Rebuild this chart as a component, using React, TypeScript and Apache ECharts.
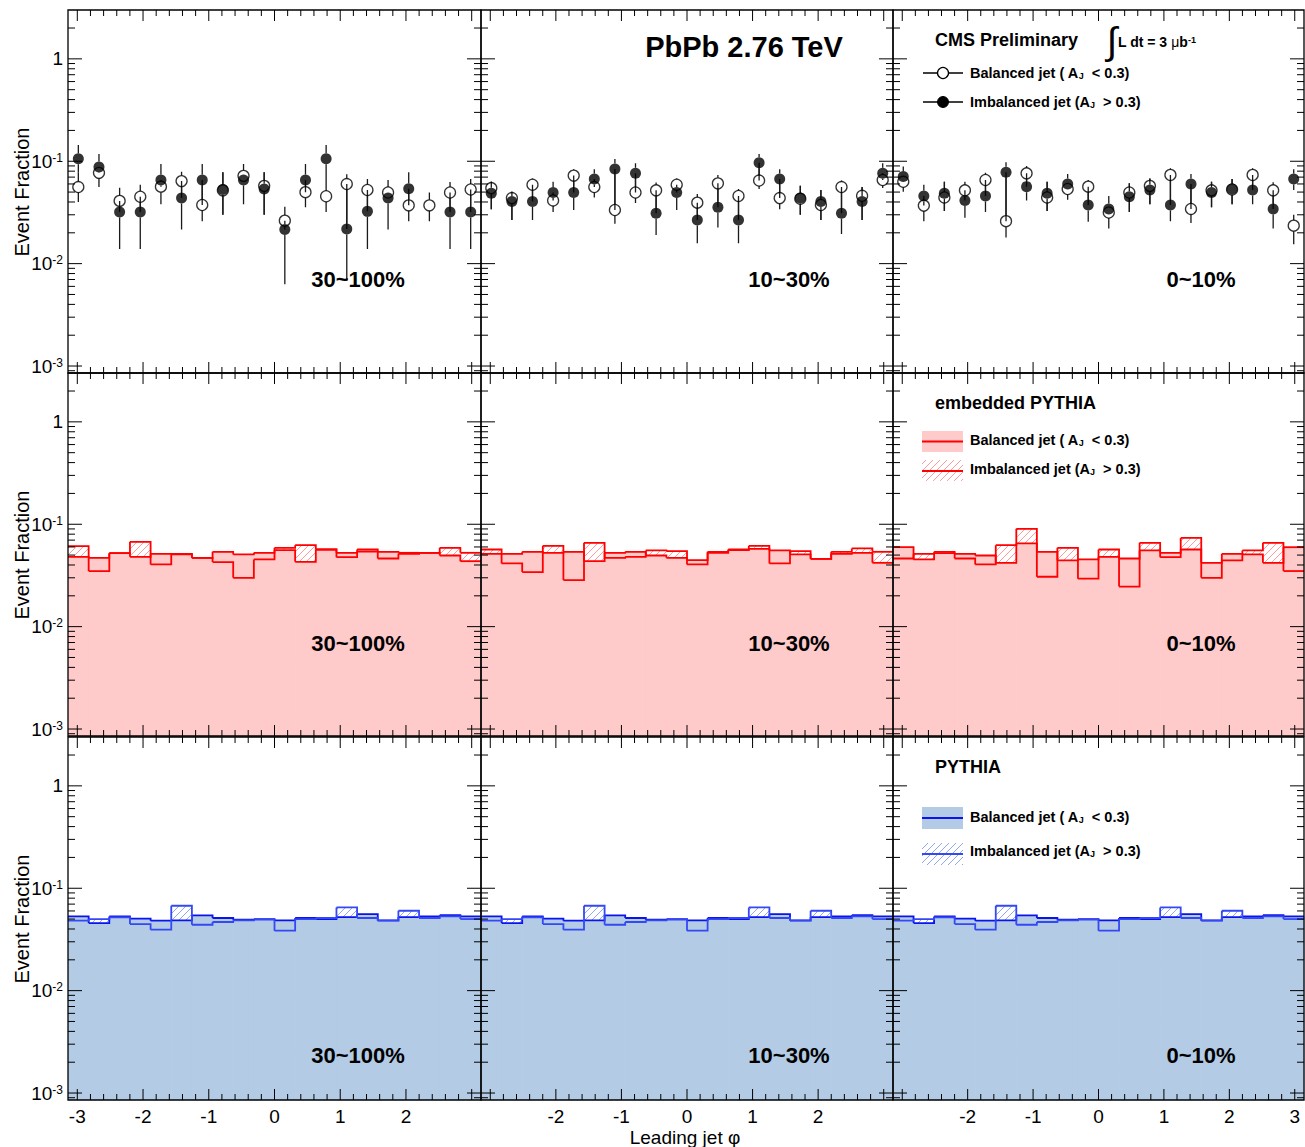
import React, { useEffect, useRef } from "react";
import * as echarts from "echarts";

const W = 1305;
const H = 1147;
const FONT = '"Liberation Sans", Arial, Helvetica, sans-serif';

// phi binning: 20 equal bins over [-pi, pi]
const PHI_MIN = -Math.PI;
const PHI_MAX = Math.PI;
const N_BINS = 20;
const BIN_W = (PHI_MAX - PHI_MIN) / N_BINS;

// log y range of every panel
const Y_MIN = 8.55e-4;
const Y_MAX = 3.0;

const centralityLabels = ["30~100%", "10~30%", "0~10%"];

// ---------- CMS PbPb data (event fraction per phi bin) ----------
// 30~100%
const cms30Bal = [0.056, 0.077, 0.041, 0.045, 0.0565, 0.064, 0.0374, 0.052, 0.072, 0.0575, 0.0263, 0.0499, 0.0455, 0.0599, 0.0524, 0.0495, 0.0371, 0.0371, 0.0495, 0.053];
const cms30BalLo = [0.04, 0.056, 0.032, 0.032, 0.038, 0.0437, 0.026, 0.03, 0.0656, 0.03, 0.0216, 0.0356, 0.032, 0.0218, 0.0324, 0.0437, 0.026, 0.026, 0.032, 0.032];
const cms30BalHi = [0.078, 0.088, 0.055, 0.059, 0.0656, 0.079, 0.0656, 0.078, 0.094, 0.078, 0.036, 0.0656, 0.0735, 0.0748, 0.067, 0.0656, 0.054, 0.0495, 0.0627, 0.067];
const cms30Imb = [0.106, 0.088, 0.032, 0.032, 0.0656, 0.0437, 0.0656, 0.053, 0.0656, 0.0536, 0.0216, 0.0656, 0.106, 0.0218, 0.0324, 0.0437, 0.054, null, 0.032, 0.032];
const cms30ImbLo = [0.078, 0.077, 0.0139, 0.0139, 0.0565, 0.0216, 0.0374, 0.03, 0.038, 0.03, 0.0063, 0.0499, 0.0735, 0.0068, 0.0139, 0.0216, 0.0371, null, 0.0139, 0.0139];
const cms30ImbHi = [0.144, 0.118, 0.041, 0.045, 0.094, 0.064, 0.094, 0.078, 0.072, 0.078, 0.0263, 0.094, 0.144, 0.0599, 0.0524, 0.0495, 0.078, null, 0.0495, 0.053];

// 10~30%
const cms10Bal = [0.0547, 0.0437, 0.059, 0.0414, 0.0724, 0.056, 0.0334, 0.0495, 0.052, 0.059, 0.0394, 0.0608, 0.0458, 0.0648, 0.0437, 0.043, 0.0374, 0.056, 0.046, 0.0656];
const cms10BalLo = [0.034, 0.0267, 0.0404, 0.032, 0.0495, 0.0443, 0.0245, 0.039, 0.031, 0.0495, 0.0267, 0.0356, 0.0267, 0.0535, 0.034, 0.03, 0.0267, 0.031, 0.0267, 0.0547];
const cms10BalHi = [0.063, 0.0505, 0.068, 0.0495, 0.0834, 0.067, 0.084, 0.0762, 0.062, 0.068, 0.0478, 0.0735, 0.0535, 0.0968, 0.067, 0.0575, 0.0524, 0.0648, 0.056, 0.0762];
const cms10Imb = [0.0487, 0.0404, 0.0404, 0.0495, 0.0495, 0.067, 0.084, 0.0762, 0.031, 0.0495, 0.0267, 0.0356, 0.0267, 0.0968, 0.067, 0.0437, 0.0404, 0.031, 0.0404, 0.0762];
const cms10ImbLo = [0.034, 0.0267, 0.0267, 0.0414, 0.0334, 0.056, 0.0334, 0.0495, 0.019, 0.0334, 0.0158, 0.0225, 0.0158, 0.0648, 0.0437, 0.03, 0.0267, 0.0195, 0.0267, 0.0656];
const cms10ImbHi = [0.063, 0.0505, 0.059, 0.063, 0.0724, 0.0834, 0.105, 0.0956, 0.052, 0.059, 0.0394, 0.0608, 0.0458, 0.118, 0.0834, 0.0575, 0.0524, 0.056, 0.056, 0.0956];

// 0~10%
const cms0Bal = [0.063, 0.0369, 0.0443, 0.052, 0.0656, 0.026, 0.0762, 0.0443, 0.0536, 0.0565, 0.0316, 0.0495, 0.0575, 0.0735, 0.0342, 0.052, 0.053, 0.0735, 0.052, 0.0235];
const cms0BalLo = [0.0505, 0.026, 0.0326, 0.0414, 0.0458, 0.018, 0.0565, 0.0326, 0.042, 0.0374, 0.022, 0.032, 0.038, 0.0374, 0.025, 0.0356, 0.038, 0.0524, 0.0342, 0.0155];
const cms0BalHi = [0.0709, 0.0458, 0.063, 0.063, 0.077, 0.078, 0.09, 0.063, 0.06, 0.0656, 0.0342, 0.0608, 0.068, 0.0854, 0.06, 0.063, 0.067, 0.0854, 0.0623, 0.03];
const cms0Imb = [0.0709, 0.0458, 0.0487, 0.0414, 0.0458, 0.078, 0.0565, 0.0487, 0.06, 0.0374, 0.0342, 0.045, 0.0524, 0.0374, 0.06, 0.0495, 0.0536, 0.0524, 0.0342, 0.067];
const cms0ImbLo = [0.063, 0.0369, 0.0326, 0.028, 0.032, 0.026, 0.0414, 0.0326, 0.0536, 0.0256, 0.0316, 0.032, 0.038, 0.026, 0.0342, 0.0356, 0.038, 0.038, 0.022, 0.0524];
const cms0ImbHi = [0.0887, 0.059, 0.063, 0.052, 0.0656, 0.098, 0.0762, 0.063, 0.075, 0.0565, 0.0458, 0.0608, 0.068, 0.0735, 0.075, 0.063, 0.067, 0.0735, 0.052, 0.0834];

// ---------- embedded PYTHIA ----------
const emb30Bal = [0.0481, 0.047, 0.0522, 0.0481, 0.0514, 0.0507, 0.047, 0.0538, 0.0507, 0.0526, 0.0558, 0.043, 0.0567, 0.0526, 0.0567, 0.0538, 0.0526, 0.0526, 0.0495, 0.0436];
const emb30Imb = [0.0611, 0.0349, 0.0522, 0.0674, 0.0405, 0.0514, 0.047, 0.0427, 0.03, 0.0453, 0.0589, 0.0625, 0.0567, 0.0477, 0.054, 0.0463, 0.0514, 0.0526, 0.0589, 0.0526];
const emb10Bal = [0.0514, 0.0514, 0.0538, 0.0526, 0.0538, 0.0436, 0.0526, 0.0538, 0.0495, 0.047, 0.0446, 0.0538, 0.0567, 0.0576, 0.0555, 0.0507, 0.046, 0.0514, 0.0526, 0.042];
const emb10Imb = [0.0567, 0.0414, 0.0341, 0.0616, 0.0285, 0.0659, 0.047, 0.0481, 0.0555, 0.0546, 0.0405, 0.0526, 0.0558, 0.0616, 0.0414, 0.0546, 0.046, 0.0538, 0.058, 0.0538];
const emb0Bal = [0.0597, 0.0453, 0.0522, 0.0514, 0.0495, 0.042, 0.0649, 0.0538, 0.0443, 0.0453, 0.0481, 0.0463, 0.0555, 0.0526, 0.0567, 0.042, 0.0514, 0.0507, 0.042, 0.0597];
const emb0Imb = [0.0463, 0.0514, 0.0538, 0.0463, 0.0405, 0.0625, 0.0902, 0.0307, 0.0589, 0.0294, 0.0567, 0.0246, 0.0659, 0.0477, 0.0736, 0.03, 0.0443, 0.0555, 0.0659, 0.0349];

// ---------- PYTHIA (same reference in every centrality column) ----------
const pythiaBal = [0.0531, 0.0457, 0.0531, 0.0504, 0.0482, 0.0485, 0.0543, 0.0512, 0.0493, 0.05, 0.0485, 0.0512, 0.05, 0.0523, 0.056, 0.0485, 0.0523, 0.0531, 0.0545, 0.0531];
const pythiaImb = [0.0482, 0.05, 0.0519, 0.0447, 0.0394, 0.0675, 0.044, 0.0468, 0.0485, 0.0493, 0.0385, 0.05, 0.0512, 0.065, 0.0512, 0.0482, 0.0603, 0.0512, 0.0531, 0.05];

// tick labels
const xLabelsByCol = [
  [-3, -2, -1, 0, 1, 2],
  [-2, -1, 0, 1, 2],
  [-2, -1, 0, 1, 2, 3],
];
const yLabelValues = [1, 0.1, 0.01, 0.001];
const yLabelTexts = ["1", "10{sup|-1}", "10{sup|-2}", "10{sup|-3}"];

// layout
const COL_LEFT = [68, 481, 893];
const COL_WIDTH = [413, 412, 411];
const ROW_TOP = [10, 373, 737];
const ROW_HEIGHT = 363;

const PINK = "#FFCACA";
const RED = "#FF0000";
const RED_HATCH = "#FF9A9A";
const BLUE_FILL = "#B3CBE4";
const BLUE = "#0A14F0";
const BLUE_LIGHT = "#3548F5";
const BLUE_HATCH = "#8FA8EC";

const MARKER_R = 5.5;

const cmsPanels = [
  { bal: cms30Bal, balLo: cms30BalLo, balHi: cms30BalHi, imb: cms30Imb, imbLo: cms30ImbLo, imbHi: cms30ImbHi },
  { bal: cms10Bal, balLo: cms10BalLo, balHi: cms10BalHi, imb: cms10Imb, imbLo: cms10ImbLo, imbHi: cms10ImbHi },
  { bal: cms0Bal, balLo: cms0BalLo, balHi: cms0BalHi, imb: cms0Imb, imbLo: cms0ImbLo, imbHi: cms0ImbHi },
];
const embPanels = [
  { bal: emb30Bal, imb: emb30Imb },
  { bal: emb10Bal, imb: emb10Imb },
  { bal: emb0Bal, imb: emb0Imb },
];

function binCenter(i: number) {
  return PHI_MIN + (i + 0.5) * BIN_W;
}

function textStyle(text: string, font: string, align = "left", rich?: any) {
  return {
    text,
    font,
    fill: "#000",
    align,
    verticalAlign: "middle",
    textAlign: align,
    textVerticalAlign: "middle",
    rich,
  };
}

const f = (n: number) => n.toFixed(2);

// SVG path of separate straight segments
function segPath(segs: number[][][]) {
  return segs.map((s) => `M${f(s[0][0])} ${f(s[0][1])}L${f(s[1][0])} ${f(s[1][1])}`).join("");
}

// 45 degree hatch segments clipped to a rectangle (screen coordinates)
function hatchSegments(x0: number, y0: number, x1: number, y1: number, spacing: number) {
  const out: number[][][] = [];
  const cStart = Math.ceil((x0 + y0) / spacing) * spacing;
  for (let c = cStart; c <= x1 + y1; c += spacing) {
    const xa = Math.max(x0, c - y1);
    const xb = Math.min(x1, c - y0);
    if (xb - xa > 0.4) out.push([[xa, c - xa], [xb, c - xb]]);
  }
  return out;
}

// legend hatch (graphic component)
function hatchElements(x0: number, y0: number, x1: number, y1: number, spacing: number, stroke: string) {
  return hatchSegments(x0, y0, x1, y1, spacing).map((pts) => ({
    type: "polyline",
    shape: { points: pts },
    style: { stroke, lineWidth: 1, fill: "none" },
  }));
}

function histItems(values: number[]) {
  return values.map((v, i) => [
    PHI_MIN + i * BIN_W,
    v,
    PHI_MIN + (i + 1) * BIN_W,
    i < values.length - 1 ? values[i + 1] : v,
  ]);
}

function histSeries(g: number, bal: number[], imb: number[], fill: string, balLine: string, imbLine: string, hatch: string) {
  const base = { type: "custom", xAxisIndex: g, yAxisIndex: g, silent: true, clip: false };
  return [
    {
      ...base,
      z: 3,
      data: histItems(imb),
      renderItem: (params: any, api: any) => {
        const p0 = api.coord([api.value(0), api.value(1)]);
        const p1 = api.coord([api.value(2), Y_MIN]);
        const segs = hatchSegments(p0[0], p0[1], p1[0], p1[1], 7);
        if (!segs.length) return null;
        return {
          type: "path",
          shape: { pathData: segPath(segs) },
          style: { stroke: hatch, lineWidth: 1, fill: "none" },
        };
      },
    },
    {
      ...base,
      z: 4,
      data: histItems(bal),
      renderItem: (params: any, api: any) => {
        const p0 = api.coord([api.value(0), api.value(1)]);
        const p1 = api.coord([api.value(2), Y_MIN]);
        return {
          type: "rect",
          shape: { x: p0[0], y: p0[1], width: p1[0] - p0[0] + 0.6, height: p1[1] - p0[1] },
          style: { fill, stroke: "none" },
        };
      },
    },
    ...[
      { vals: bal, color: balLine, z: 5 },
      { vals: imb, color: imbLine, z: 6 },
    ].map((h) => ({
      ...base,
      z: h.z,
      data: histItems(h.vals),
      renderItem: (params: any, api: any) => {
        const a = api.coord([api.value(0), api.value(1)]);
        const b = api.coord([api.value(2), api.value(1)]);
        const c = api.coord([api.value(2), api.value(3)]);
        return {
          type: "polyline",
          shape: { points: [a, b, c] },
          style: { stroke: h.color, lineWidth: 1.8, fill: "none", lineJoin: "miter" },
        };
      },
    })),
  ];
}

function errorBarSeries(g: number, vals: (number | null)[], lo: (number | null)[], hi: (number | null)[]) {
  const data: number[][] = [];
  vals.forEach((v, i) => {
    if (v != null) data.push([binCenter(i), v, lo[i] as number, hi[i] as number]);
  });
  return {
    type: "custom",
    xAxisIndex: g,
    yAxisIndex: g,
    silent: true,
    z: 5,
    data,
    renderItem: (params: any, api: any) => {
      const x = api.value(0);
      const p = api.coord([x, api.value(1)]);
      const pl = api.coord([x, api.value(2)]);
      const ph = api.coord([x, api.value(3)]);
      const segs: number[][][] = [];
      if (ph[1] < p[1] - MARKER_R) segs.push([[p[0], ph[1]], [p[0], p[1] - MARKER_R]]);
      if (pl[1] > p[1] + MARKER_R) segs.push([[p[0], p[1] + MARKER_R], [p[0], pl[1]]]);
      if (!segs.length) return null;
      return {
        type: "path",
        shape: { pathData: segPath(segs) },
        style: { stroke: "#1a1a1a", lineWidth: 1.3, fill: "none" },
      };
    },
  };
}

function tickSeries(g: number) {
  const xTicks: number[][] = [];
  for (let k = -15; k <= 15; k++) xTicks.push([k * 0.2, Y_MIN, k % 5 === 0 ? 1 : 0]);
  const yTicks: number[][] = [];
  for (let e = -4; e <= 0; e++) {
    for (let m = 1; m <= 9; m++) {
      const v = m * Math.pow(10, e);
      if (v > Y_MIN && v < Y_MAX * 0.98) yTicks.push([PHI_MIN, v, m === 1 ? 1 : 0]);
    }
  }
  const st = { stroke: "#000", lineWidth: 1, fill: "none" };
  return [
    {
      type: "custom",
      xAxisIndex: g,
      yAxisIndex: g,
      silent: true,
      z: 30,
      data: xTicks,
      renderItem: (params: any, api: any) => {
        const v = api.value(0);
        const len = api.value(2) === 1 ? 11 : 6;
        const b = api.coord([v, Y_MIN]);
        const t = api.coord([v, Y_MAX]);
        return {
          type: "path",
          shape: { pathData: segPath([[[b[0], b[1]], [b[0], b[1] - len]], [[t[0], t[1]], [t[0], t[1] + len]]]) },
          style: st,
        };
      },
    },
    {
      type: "custom",
      xAxisIndex: g,
      yAxisIndex: g,
      silent: true,
      z: 30,
      data: yTicks,
      renderItem: (params: any, api: any) => {
        const v = api.value(1);
        const len = api.value(2) === 1 ? 14 : 7;
        const l = api.coord([PHI_MIN, v]);
        const r = api.coord([PHI_MAX, v]);
        return {
          type: "path",
          shape: { pathData: segPath([[[l[0], l[1]], [l[0] + len, l[1]]], [[r[0], r[1]], [r[0] - len, r[1]]]]) },
          style: st,
        };
      },
    },
  ];
}

function xLabelSeries(g: number, labels: number[]) {
  return {
    type: "custom",
    xAxisIndex: g,
    yAxisIndex: g,
    silent: true,
    z: 30,
    data: labels.map((v) => [v, Y_MIN]),
    renderItem: (params: any, api: any) => {
      const p = api.coord([api.value(0), Y_MIN]);
      return {
        type: "text",
        x: p[0],
        y: p[1] + 16,
        style: textStyle(String(labels[params.dataIndex]), `19px ${FONT}`, "center"),
      };
    },
  };
}

function yLabelSeries(g: number) {
  return {
    type: "custom",
    xAxisIndex: g,
    yAxisIndex: g,
    silent: true,
    z: 30,
    data: yLabelValues.map((v) => [PHI_MIN, v]),
    renderItem: (params: any, api: any) => {
      const p = api.coord([PHI_MIN, api.value(1)]);
      return {
        type: "text",
        x: p[0] - 5,
        y: p[1],
        style: textStyle(yLabelTexts[params.dataIndex], `19px ${FONT}`, "right", {
          sup: { font: `12px ${FONT}`, verticalAlign: "top", fill: "#000" },
        }),
      };
    },
  };
}

const subRich = { sub: { font: `bold 9px ${FONT}`, verticalAlign: "bottom", fill: "#000" } };

function legendTexts(y1: number, y2: number) {
  const font = `bold 14.5px ${FONT}`;
  return [
    { type: "text", x: 970, y: y1, z: 50, style: textStyle("Balanced jet ( A{sub|J}  < 0.3)", font, "left", subRich) },
    { type: "text", x: 970, y: y2, z: 50, style: textStyle("Imbalanced jet (A{sub|J}  > 0.3)", font, "left", subRich) },
  ];
}

function buildGraphic() {
  const els: any[] = [];
  const t = (x: number, y: number, text: string, font: string, align = "left", rich?: any, extra: any = {}) =>
    els.push({ type: "text", x, y, z: 50, silent: true, ...extra, style: textStyle(text, font, align, rich) });

  // axis titles
  ROW_TOP.forEach((top) => {
    t(22, top + 182, "Event Fraction", `20px ${FONT}`, "center", undefined, { rotation: Math.PI / 2 });
  });
  t(685, 1137, "Leading jet \u03C6", `19px ${FONT}`, "center");

  // centrality labels
  const labelY = [279, 643, 1055];
  const labelX = [358, 789, 1201];
  labelY.forEach((y) => labelX.forEach((x, c) => t(x, y, centralityLabels[c], `bold 22px ${FONT}`, "center")));

  // header texts
  t(744, 47, "PbPb 2.76 TeV", `bold 29px ${FONT}`, "center");
  t(935, 40, "CMS Preliminary", `bold 18px ${FONT}`);
  t(1112, 41, "\u222B", `38px ${FONT}`, "center");
  t(1118, 42, "L dt = 3 {mu|\u03BC}b{sup|-1}", `bold 14px ${FONT}`, "left", {
    mu: { font: `14px ${FONT}`, fill: "#000" },
    sup: { font: `bold 9px ${FONT}`, verticalAlign: "top", fill: "#000" },
  });

  // CMS legend
  const lineSt = { stroke: "#000", lineWidth: 1.3 };
  els.push({ type: "line", z: 50, shape: { x1: 923, y1: 73, x2: 963, y2: 73 }, style: lineSt });
  els.push({ type: "circle", z: 51, shape: { cx: 943, cy: 73, r: 5.5 }, style: { fill: "#fff", stroke: "#000", lineWidth: 1.3 } });
  els.push({ type: "line", z: 50, shape: { x1: 923, y1: 102, x2: 963, y2: 102 }, style: lineSt });
  els.push({ type: "circle", z: 51, shape: { cx: 943, cy: 102, r: 5.5 }, style: { fill: "#000", stroke: "#000", lineWidth: 1 } });
  els.push(...legendTexts(73, 102));

  // embedded PYTHIA legend
  t(935, 403, "embedded PYTHIA", `bold 18px ${FONT}`);
  els.push({ type: "rect", z: 50, shape: { x: 922, y: 431, width: 41, height: 21 }, style: { fill: PINK } });
  els.push({ type: "line", z: 51, shape: { x1: 922, y1: 441.5, x2: 963, y2: 441.5 }, style: { stroke: RED, lineWidth: 1.8 } });
  els.push({ type: "group", z: 50, children: hatchElements(922, 460, 963, 481, 7, RED_HATCH) });
  els.push({ type: "line", z: 51, shape: { x1: 922, y1: 471, x2: 963, y2: 471 }, style: { stroke: RED, lineWidth: 1.8 } });
  els.push(...legendTexts(440, 469));

  // PYTHIA legend
  t(935, 767, "PYTHIA", `bold 18px ${FONT}`);
  els.push({ type: "rect", z: 50, shape: { x: 922, y: 807, width: 41, height: 22 }, style: { fill: BLUE_FILL } });
  els.push({ type: "line", z: 51, shape: { x1: 922, y1: 818, x2: 963, y2: 818 }, style: { stroke: BLUE, lineWidth: 1.8 } });
  els.push({ type: "group", z: 50, children: hatchElements(922, 843, 963, 865, 7, BLUE_HATCH) });
  els.push({ type: "line", z: 51, shape: { x1: 922, y1: 854, x2: 963, y2: 854 }, style: { stroke: BLUE_LIGHT, lineWidth: 1.8 } });
  els.push(...legendTexts(817, 851));

  return els;
}

function buildOption() {
  const grid: any[] = [];
  const xAxis: any[] = [];
  const yAxis: any[] = [];
  const series: any[] = [];

  for (let r = 0; r < 3; r++) {
    for (let c = 0; c < 3; c++) {
      const g = r * 3 + c;
      grid.push({
        left: COL_LEFT[c],
        top: ROW_TOP[r],
        width: COL_WIDTH[c],
        height: ROW_HEIGHT,
        show: true,
        borderColor: "#000",
        borderWidth: 1.3,
        backgroundColor: "transparent",
        containLabel: false,
        outerBoundsMode: "none",
        z: 20,
      });
      xAxis.push({ type: "value", gridIndex: g, min: PHI_MIN, max: PHI_MAX, show: false });
      yAxis.push({ type: "log", logBase: 10, gridIndex: g, min: Y_MIN, max: Y_MAX, show: false });

      series.push(...tickSeries(g));
      if (r === 2) series.push(xLabelSeries(g, xLabelsByCol[c]));
      if (c === 0) series.push(yLabelSeries(g));

      if (r === 0) {
        const p = cmsPanels[c];
        series.push(errorBarSeries(g, p.bal, p.balLo, p.balHi));
        series.push(errorBarSeries(g, p.imb, p.imbLo, p.imbHi));
        series.push({
          type: "scatter",
          xAxisIndex: g,
          yAxisIndex: g,
          silent: true,
          z: 6,
          symbol: "circle",
          symbolSize: 11,
          itemStyle: { color: "#000" },
          data: p.imb.map((v, i) => (v == null ? null : [binCenter(i), v])).filter((d) => d),
        });
        series.push({
          type: "scatter",
          xAxisIndex: g,
          yAxisIndex: g,
          silent: true,
          z: 7,
          symbol: "circle",
          symbolSize: 11,
          itemStyle: { color: "rgba(255,255,255,0)", borderColor: "#000", borderWidth: 1.3 },
          data: p.bal.map((v, i) => [binCenter(i), v]),
        });
      } else if (r === 1) {
        const p = embPanels[c];
        series.push(...histSeries(g, p.bal, p.imb, PINK, RED, RED, RED_HATCH));
      } else {
        series.push(...histSeries(g, pythiaBal, pythiaImb, BLUE_FILL, BLUE, BLUE_LIGHT, BLUE_HATCH));
      }
    }
  }

  return {
    animation: false,
    backgroundColor: "#fff",
    grid,
    xAxis,
    yAxis,
    series,
    graphic: { elements: buildGraphic() },
  };
}

export default function App() {
  const ref = useRef<HTMLDivElement>(null);
  useEffect(() => {
    if (!ref.current) return;
    const chart = echarts.init(ref.current, null, { renderer: "svg", width: W, height: H });
    chart.setOption(buildOption() as any);
    return () => chart.dispose();
  }, []);
  return (
    <div
      ref={ref}
      style={{ position: "absolute", left: 0, top: 0, width: W, height: H, background: "#fff" }}
    />
  );
}
